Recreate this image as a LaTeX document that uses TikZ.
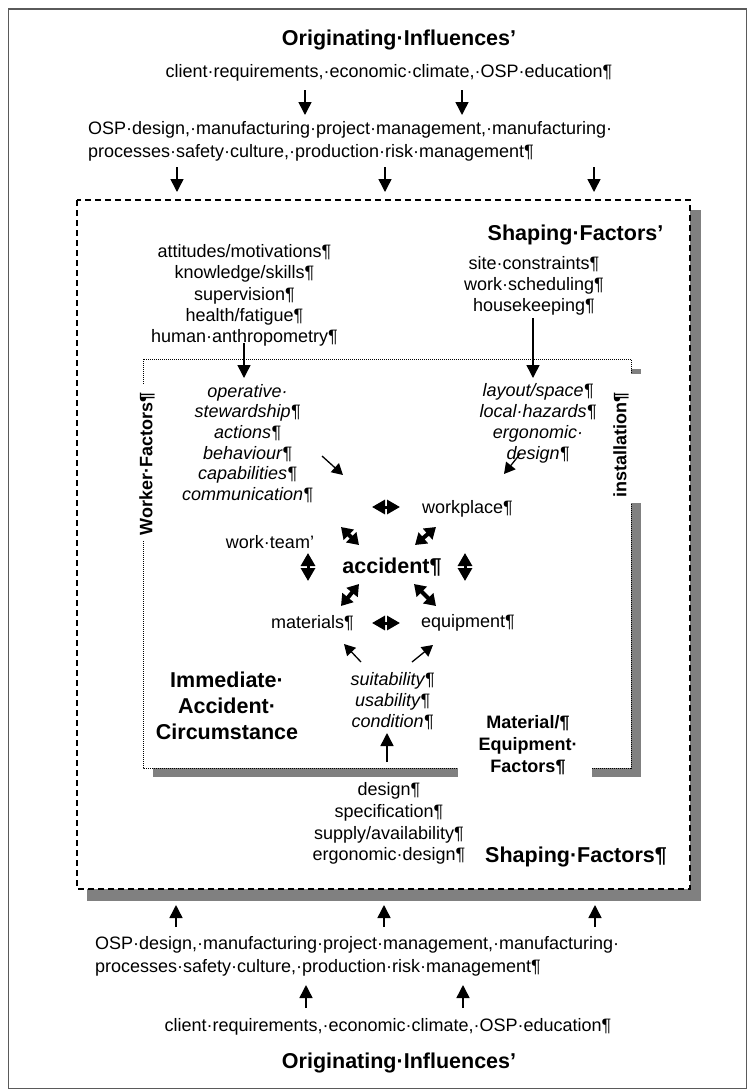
\documentclass[tikz,border=0pt]{standalone}
\usepackage{fontspec}
\setmainfont{Liberation Sans}
\usetikzlibrary{arrows.meta}
\definecolor{framegray}{RGB}{90,90,90}
\definecolor{shadowgray}{RGB}{128,128,128}
\begin{document}
\begin{tikzpicture}[x=1pt,y=-1pt,
  every node/.style={inner sep=0pt, outer sep=0pt},
  body/.style={font=\fontsize{18}{21.2}\selectfont, align=center},
  twoline/.style={font=\fontsize{18}{23}\selectfont, align=left, anchor=west},
  ital/.style={font=\fontsize{18}{20.6}\selectfont\itshape, align=center},
  lab/.style={font=\fontsize{18}{21.5}\selectfont\bfseries, align=center},
  ttl/.style={font=\fontsize{21.5}{26}\selectfont\bfseries, align=center},
  arr/.style={line width=1.5pt, -{Triangle[length=13pt,width=13pt]}},
  sarr/.style={line width=1.3pt, -{Triangle[length=11pt,width=12pt]}},
  dbl/.style={line width=3pt, {Triangle[length=13pt,width=14pt]}-{Triangle[length=13pt,width=14pt]}},
  ddbl/.style={line width=4pt, {Triangle[length=11pt,width=14pt]}-{Triangle[length=11pt,width=14pt]}},
  dashbox/.style={draw=black, line width=1.1pt, dash pattern=on 6pt off 4pt, fill=white},
  dotbox/.style={draw=black, line width=1pt, dash pattern=on 1pt off 1pt, fill=white},
]
\useasboundingbox (0,0) rectangle (755,1090);
\fill[white] (0,0) rectangle (755,1090);
% outer frame
\draw[framegray, line width=1.6pt] (8.5,9) rectangle (746.5,1088.5);

% ---------- top originating influences
\node[ttl] (oitop) at (399,40) {Originating·Influences’};
\node[body] (clienttop) at (389,73) {client·requirements,·economic·climate,·OSP·education¶};
\node[twoline] (osptop) at (88,141.5) {OSP·design,·manufacturing·project·management,·manufacturing·\\processes·safety·culture,·production·risk·management¶};
\coordinate (t1a) at (305,90);  \coordinate (t1b) at (305,115);
\coordinate (t2a) at (462,90);  \coordinate (t2b) at (462,115);
\coordinate (t3a) at (177,167); \coordinate (t3b) at (177,192);
\coordinate (t4a) at (385,167); \coordinate (t4b) at (385,192);
\coordinate (t5a) at (594,167); \coordinate (t5b) at (594,192);
\draw[arr] (t1a) -- (t1b);
\draw[arr] (t2a) -- (t2b);
\draw[arr] (t3a) -- (t3b);
\draw[arr] (t4a) -- (t4b);
\draw[arr] (t5a) -- (t5b);

% ---------- outer dashed box with shadow
\fill[shadowgray] (87,210) rectangle (701,901);
\draw[dashbox] (77,200) rectangle (690,889);

\node[ttl] (sftop) at (575.5,235) {Shaping·Factors’};
\node[body, font=\fontsize{18}{21}\selectfont] (site) at (534,286) {site·constraints¶\\work·scheduling¶\\housekeeping¶};
\node[body, font=\fontsize{18}{21.25}\selectfont] (workerlist) at (244.5,295.5) {attitudes/motivations¶\\knowledge/skills¶\\supervision¶\\health/fatigue¶\\human·anthropometry¶};

% ---------- inner dotted box with shadow
\fill[shadowgray] (153,369) rectangle (641,777);
\draw[dotbox] (143,359) rectangle (631,768);
\fill[white] (133,385) rectangle (161,541);
\fill[white] (606,374) rectangle (644,503);
\fill[white] (458,700) rectangle (592,783);
\node[lab, rotate=90] (worker) at (147,464) {Worker·Factors¶};
\node[lab, rotate=90] (install) at (621,445) {installation¶};
\node[lab, font=\fontsize{18}{22}\selectfont\bfseries] (mateq) at (528,745) {Material/¶\\Equipment·\\Factors¶};

\coordinate (w1a) at (244,343); \coordinate (w1b) at (244,378);
\coordinate (w2a) at (533,318); \coordinate (w2b) at (533,378);
\draw[arr] (w1a) -- (w1b);
\draw[arr] (w2a) -- (w2b);

\node[ital] (oper) at (247.5,443.5) {operative·\\stewardship¶\\actions¶\\behaviour¶\\capabilities¶\\communication¶};
\node[ital, font=\fontsize{18}{21}\selectfont\itshape] (layout) at (538,423.5) {layout/space¶\\local·hazards¶\\ergonomic·\\design¶};

% ---------- accident circle
\node[body] (workplace) at (467.5,509) {workplace¶};
\node[body] (workteam) at (270,542) {work·team’};
\node[ttl] (accident) at (392,567) {accident¶};
\node[body] (materials) at (312.5,623) {materials¶};
\node[body] (equipment) at (468,623) {equipment¶};

\coordinate (htA) at (372,507); \coordinate (htB) at (400,507);
\coordinate (hbA) at (372,623); \coordinate (hbB) at (400,623);
\coordinate (vlA) at (308,553); \coordinate (vlB) at (308,581);
\coordinate (vrA) at (465,553); \coordinate (vrB) at (465,581);
\coordinate (nwA) at (341,527); \coordinate (nwB) at (359,545);
\coordinate (neA) at (436,527); \coordinate (neB) at (415,545);
\coordinate (swA) at (359,584); \coordinate (swB) at (341,606);
\coordinate (seA) at (414,584); \coordinate (seB) at (436,606);
\draw[dbl] (htA) -- (htB);
\draw[dbl] (hbA) -- (hbB);
\draw[dbl] (vlA) -- (vlB);
\draw[dbl] (vrA) -- (vrB);
\draw[ddbl] (nwA) -- (nwB);
\draw[ddbl] (neA) -- (neB);
\draw[ddbl] (swA) -- (swB);
\draw[ddbl] (seA) -- (seB);

\coordinate (s1a) at (322,456); \coordinate (s1b) at (343,475);
\coordinate (s2a) at (520,454); \coordinate (s2b) at (504,474);
\coordinate (s3a) at (361,662); \coordinate (s3b) at (344,644);
\coordinate (s4a) at (412,662); \coordinate (s4b) at (433,645);
\draw[sarr] (s1a) -- (s1b);
\draw[sarr] (s2a) -- (s2b);
\draw[sarr] (s3a) -- (s3b);
\draw[sarr] (s4a) -- (s4b);

\node[ital, font=\fontsize{18}{21}\selectfont\itshape] (suit) at (392.5,701) {suitability¶\\usability¶\\condition¶};
\coordinate (c1a) at (387,762); \coordinate (c1b) at (387,733);
\draw[arr] (c1a) -- (c1b);

\node[ttl] (iac) at (227,706) {Immediate·\\Accident·\\Circumstance};

% ---------- lower shaping factors
\node[body, font=\fontsize{18}{21.7}\selectfont] (designlist) at (389,823.5) {design¶\\specification¶\\supply/availability¶\\ergonomic·design¶};
\node[ttl] (sfbot) at (576,857) {Shaping·Factors¶};

% ---------- bottom originating influences
\coordinate (b1a) at (176,927); \coordinate (b1b) at (176,905);
\coordinate (b2a) at (384,927); \coordinate (b2b) at (384,905);
\coordinate (b3a) at (595,927); \coordinate (b3b) at (595,905);
\draw[arr] (b1a) -- (b1b);
\draw[arr] (b2a) -- (b2b);
\draw[arr] (b3a) -- (b3b);
\node[twoline] (ospbot) at (95,956.5) {OSP·design,·manufacturing·project·management,·manufacturing·\\processes·safety·culture,·production·risk·management¶};
\coordinate (b4a) at (306,1008); \coordinate (b4b) at (306,985);
\coordinate (b5a) at (463,1008); \coordinate (b5b) at (463,985);
\draw[arr] (b4a) -- (b4b);
\draw[arr] (b5a) -- (b5b);
\node[body] (clientbot) at (388,1027) {client·requirements,·economic·climate,·OSP·education¶};
\node[ttl] (oibot) at (399,1063) {Originating·Influences’};
\end{tikzpicture}
\end{document}
